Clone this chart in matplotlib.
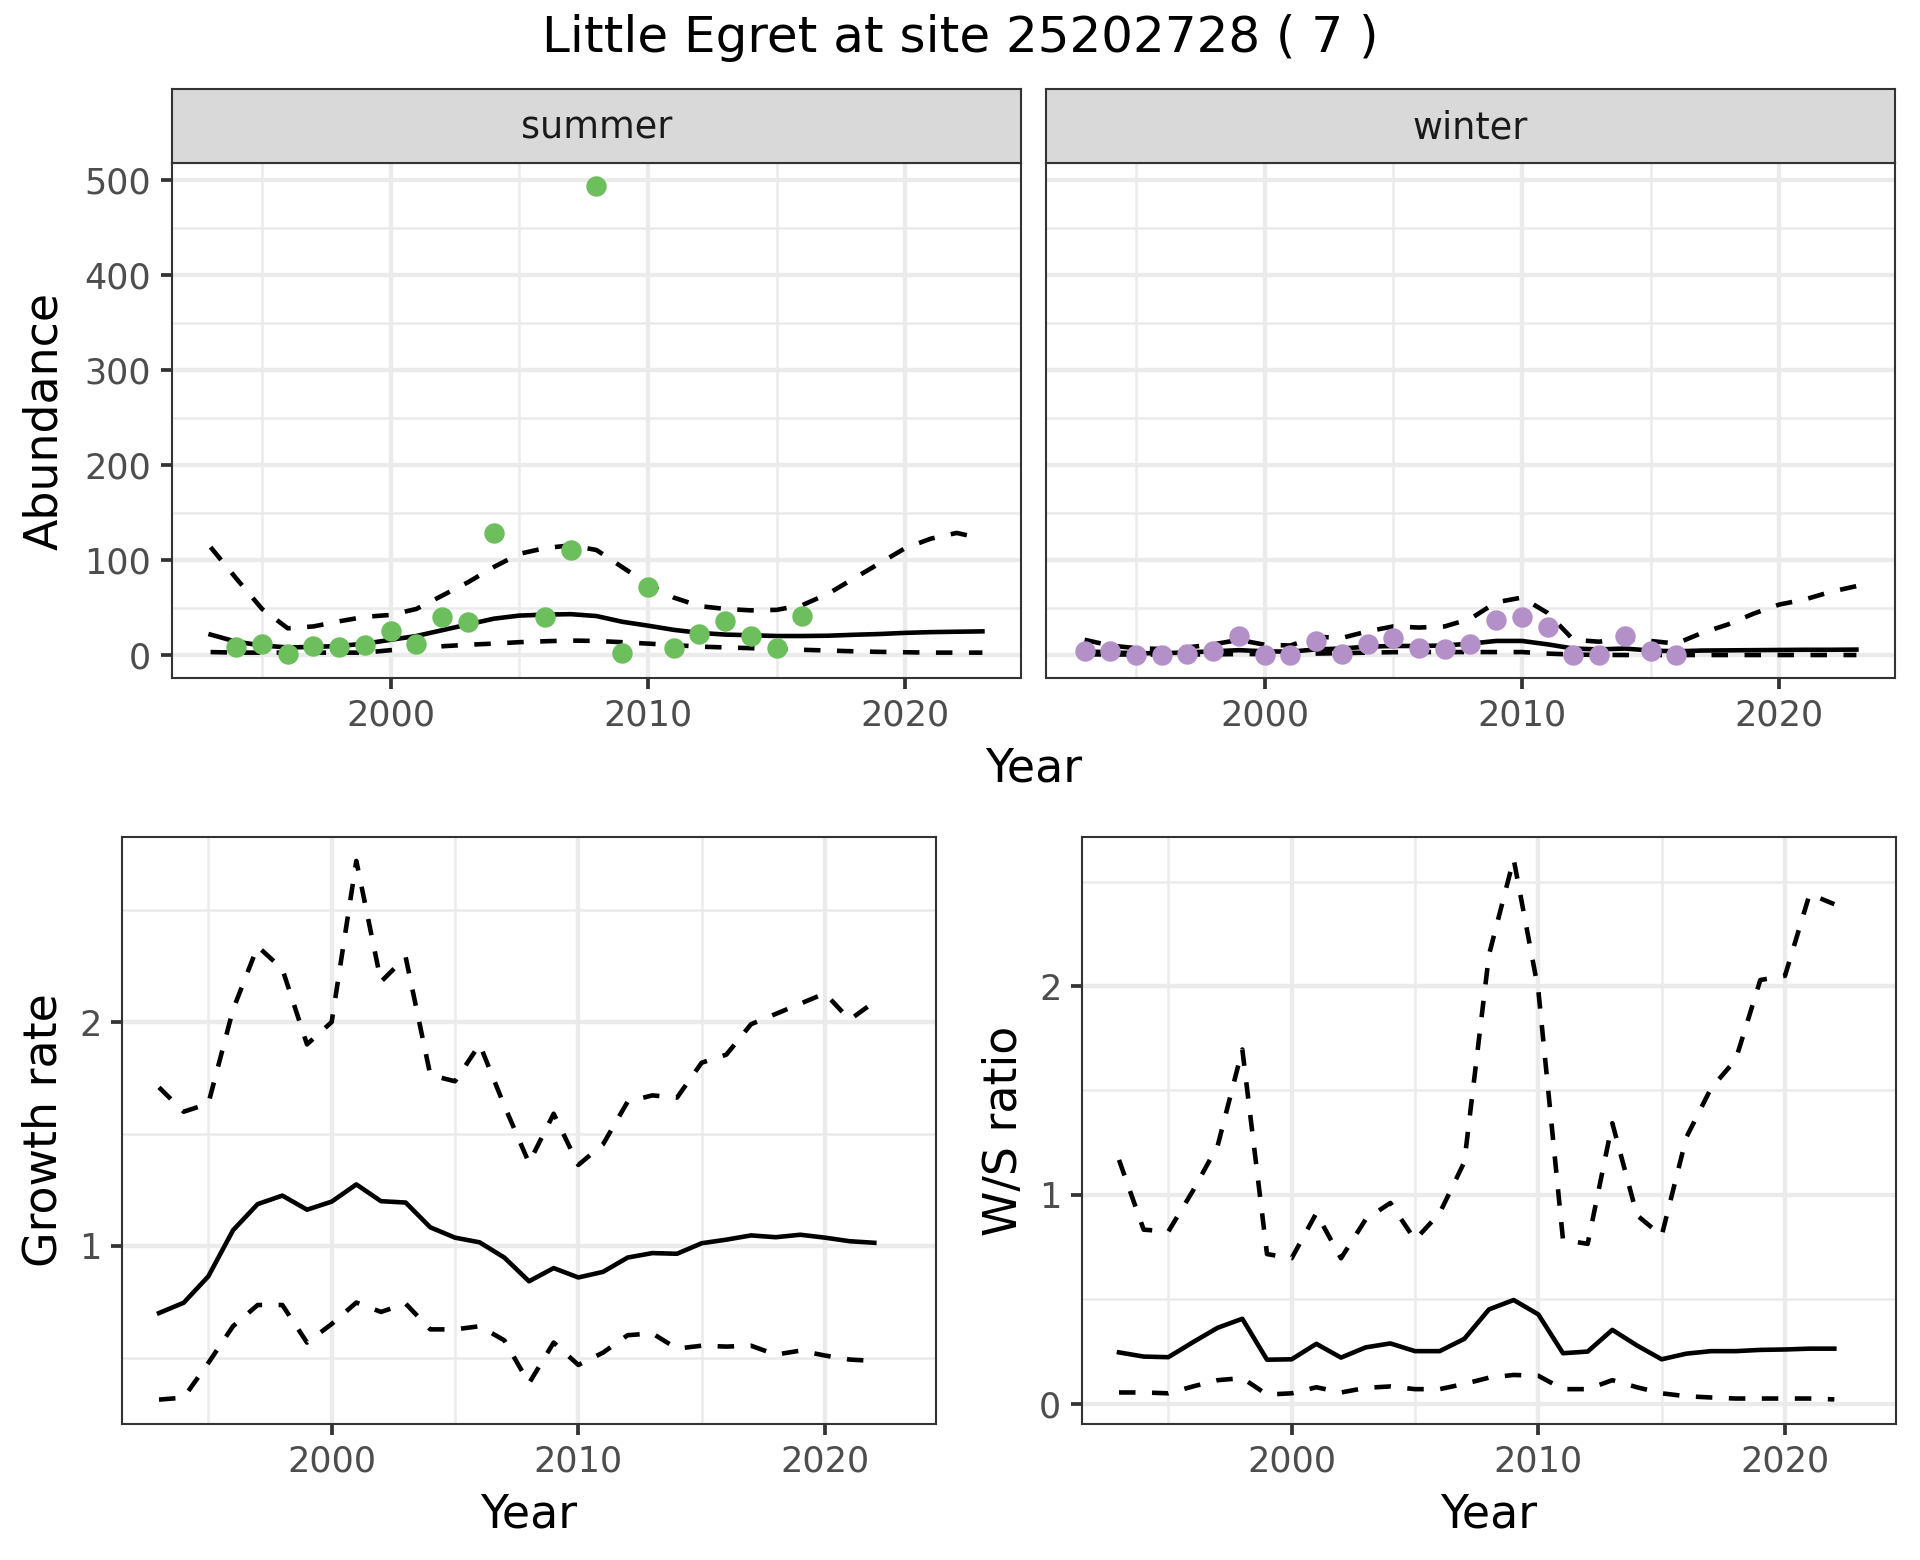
import matplotlib
matplotlib.use("Agg")
import matplotlib.pyplot as plt
import numpy as np

# fitted abundance trends, 1993-2023
trend_years = np.arange(1993, 2024)
summer_fit = [22, 14.5, 10.5, 8.5, 9, 10, 12.5, 16.5, 20.5, 26.6, 32.6, 38.7, 42, 43, 43.5,
              41.5, 35.5, 31.4, 27, 23.8, 22, 21.3, 20.5, 20.5, 20.8, 21.8, 22.6, 23.8, 24.6, 25, 25.4]
summer_hi = [114, 81, 49, 28.6, 30.6, 36, 40.7, 42.7, 49, 63, 77, 93, 107, 113, 116,
             111, 93, 75, 61, 52, 49, 47.5, 48, 53, 65, 81, 97, 113, 123, 129, 123]
summer_lo = [3.6, 3, 3, 3, 3, 3, 3, 5.6, 7.7, 9.7, 11.3, 12.5, 14, 15, 15.7,
             15.3, 14, 12.5, 11, 9.3, 8.5, 7.7, 6.8, 6, 5.2, 4.4, 3.8, 3.4, 3, 3, 3]
winter_fit = [4.4, 3.2, 2.4, 2.4, 3.2, 4.4, 5.6, 4.4, 4, 6.4, 7.3, 9.3, 10, 10, 10.5,
              12.5, 15.3, 15.3, 11.7, 7.3, 6.4, 7.3, 5.2, 4.4, 5.2, 5.4, 5.6, 5.8, 6, 6, 6.2]
winter_hi = [16.5, 10.5, 7.7, 6.8, 8.5, 11.7, 16.5, 11.3, 10.5, 19.7, 18.5, 25.4, 30.6, 29.4, 30.6,
             38.7, 56, 61, 44.7, 16.5, 14.5, 18.5, 15.3, 12.5, 23.8, 32.6, 44, 53.6, 59, 67, 73]
winter_lo = [1.2, 1, 1, 1, 1, 1.2, 1.5, 1.5, 1.8, 2, 2.5, 3, 3.5, 3.6, 3.6,
             3.6, 3.6, 3.6, 2, 1, 0.6, 0.5, 0.5, 0.5, 0.5, 0.5, 0.5, 0.5, 0.5, 0.5, 0.5]

# observed counts
summer_years = [1994, 1995, 1996, 1997, 1998, 1999, 2000, 2001, 2002, 2003, 2004,
                2006, 2007, 2008, 2009, 2010, 2011, 2012, 2013, 2014, 2015, 2016]
summer_counts = [9, 12, 2, 10, 8.5, 11, 26, 12.5, 41, 35, 129,
                 40, 111, 494, 3, 72, 8, 23, 36, 20, 8, 42]
winter_years = list(range(1993, 2017))
winter_counts = [5, 5, 0.5, 0, 2, 5, 20.5, 0, 0.5, 15, 2, 12, 18, 8, 7, 12.5,
                 37, 41, 30, 0.5, 1, 21, 5, 0.5]

# growth rate and winter/summer ratio, 1993-2022
rate_years = np.arange(1993, 2023)
growth_mid = [0.699, 0.745, 0.863, 1.069, 1.186, 1.224, 1.161, 1.197, 1.274, 1.199, 1.193, 1.082, 1.036, 1.015, 0.947,
              0.841, 0.9, 0.858, 0.883, 0.947, 0.967, 0.964, 1.011, 1.027, 1.046, 1.038, 1.049, 1.036, 1.02, 1.013]
growth_hi = [1.708, 1.599, 1.635, 2.055, 2.338, 2.237, 1.9, 2.0, 2.72, 2.18, 2.29, 1.763, 1.735, 1.9, 1.626,
             1.37, 1.59, 1.361, 1.453, 1.644, 1.672, 1.662, 1.818, 1.854, 1.99, 2.036, 2.082, 2.128, 2.01, 2.09]
growth_lo = [0.312, 0.321, 0.476, 0.64, 0.735, 0.735, 0.567, 0.65, 0.746, 0.704, 0.741, 0.626, 0.626, 0.64, 0.577,
             0.385, 0.567, 0.467, 0.522, 0.6, 0.608, 0.54, 0.553, 0.549, 0.553, 0.513, 0.531, 0.509, 0.491, 0.485]
ws_mid = [0.245, 0.225, 0.222, 0.294, 0.363, 0.406, 0.21, 0.212, 0.286, 0.22, 0.269, 0.288, 0.251, 0.251, 0.31,
          0.451, 0.496, 0.427, 0.241, 0.249, 0.353, 0.278, 0.212, 0.239, 0.251, 0.251, 0.257, 0.259, 0.263, 0.263]
ws_hi = [1.167, 0.833, 0.824, 1.02, 1.235, 1.696, 0.716, 0.696, 0.912, 0.696, 0.882, 0.961, 0.784, 0.912, 1.157,
         2.15, 2.608, 1.98, 0.784, 0.765, 1.343, 0.902, 0.804, 1.275, 1.51, 1.647, 2.029, 2.049, 2.441, 2.392]
ws_lo = [0.053, 0.053, 0.049, 0.082, 0.112, 0.122, 0.043, 0.049, 0.078, 0.053, 0.075, 0.082, 0.069, 0.069, 0.094,
         0.124, 0.137, 0.133, 0.069, 0.069, 0.112, 0.078, 0.049, 0.035, 0.029, 0.024, 0.024, 0.024, 0.024, 0.02]

GREEN = "#6dbe5c"
PURPLE = "#b490c8"
W, H = 1920, 1560
LW = 1.1
DASH = (0, (3.6, 3.6))


def frac(x0, y0, x1, y1):
    # pixel box -> figure fraction rect
    return [x0 / W, 1 - y1 / H, (x1 - x0) / W, (y1 - y0) / H]


def style(ax, xlim, ylim, yticks, yminor, show_ylabels=True):
    ax.set_xlim(*xlim)
    ax.set_ylim(*ylim)
    ax.set_xticks([2000, 2010, 2020])
    ax.set_xticks([1995, 2005, 2015], minor=True)
    ax.set_yticks(yticks)
    ax.set_yticks(yminor, minor=True)
    ax.grid(which="major", color="#ebebeb", lw=1.05, zorder=0)
    ax.grid(which="minor", color="#ebebeb", lw=0.6, zorder=0)
    ax.set_axisbelow(True)
    ax.tick_params(which="major", length=2.75, width=0.9, color="#333333",
                   labelsize=8.4, labelcolor="#4d4d4d", pad=2.2)
    ax.tick_params(which="minor", length=0)
    if not show_ylabels:
        ax.tick_params(axis="y", which="major", length=0, labelleft=False)
    for sp in ax.spines.values():
        sp.set_color("#333333")
        sp.set_linewidth(0.5)


def draw_band(ax, x, mid, lo, hi):
    ax.plot(x, hi, color="black", lw=LW, ls=DASH, zorder=2)
    ax.plot(x, lo, color="black", lw=LW, ls=DASH, zorder=2)
    ax.plot(x, mid, color="black", lw=LW, zorder=2)


fig = plt.figure(figsize=(6.4, 5.2), dpi=300)
XL = (1991.5, 2024.5)
top_ylim = (-23.7, 518.4)

ax_s = fig.add_axes(frac(172, 163, 1021, 678))
ax_w = fig.add_axes(frac(1046, 163, 1895, 678))
for ax, x_obs, y_obs, col, mid, lo, hi, name, (sx0, sx1) in [
        (ax_s, summer_years, summer_counts, GREEN, summer_fit, summer_lo, summer_hi, "summer", (172, 1021)),
        (ax_w, winter_years, winter_counts, PURPLE, winter_fit, winter_lo, winter_hi, "winter", (1046, 1895))]:
    draw_band(ax, trend_years, mid, lo, hi)
    ax.plot(x_obs, y_obs, "o", color=col, ms=4.9, mew=0, zorder=3)
    style(ax, XL, top_ylim, range(0, 501, 100), range(50, 501, 100), show_ylabels=(ax is ax_s))
    strip = fig.add_axes(frac(sx0, 89, sx1, 163))
    strip.set_facecolor("#d9d9d9")
    strip.set_xticks([])
    strip.set_yticks([])
    for sp in strip.spines.values():
        sp.set_color("#333333")
        sp.set_linewidth(0.5)
    strip.text(0.5, 0.33, name, ha="center", va="baseline", fontsize=8.8,
               color="#1a1a1a", transform=strip.transAxes)

ax_g = fig.add_axes(frac(122, 837, 936, 1424))
draw_band(ax_g, rate_years, growth_mid, growth_lo, growth_hi)
style(ax_g, XL, (0.203, 2.827), [1, 2], [0.5, 1.5, 2.5])

ax_r = fig.add_axes(frac(1082, 837, 1896, 1424))
draw_band(ax_r, rate_years, ws_mid, ws_lo, ws_hi)
style(ax_r, XL, (-0.098, 2.714), [0, 1, 2], [0.5, 1.5, 2.5])

fig.text(0.5, 1 - 52 / H, "Little Egret at site 25202728 ( 7 )", ha="center",
         va="baseline", fontsize=12)
fig.text((172 + 1895) / 2 / W, 1 - 782 / H, "Year", ha="center", va="baseline", fontsize=11)
fig.text((122 + 936) / 2 / W, 1 - 1528 / H, "Year", ha="center", va="baseline", fontsize=11)
fig.text((1082 + 1896) / 2 / W, 1 - 1528 / H, "Year", ha="center", va="baseline", fontsize=11)
fig.text(57 / W, 1 - (163 + 678) / 2 / H, "Abundance", rotation=90, rotation_mode="anchor",
         ha="center", va="baseline", fontsize=11)
fig.text(57 / W, 1 - (837 + 1424) / 2 / H, "Growth rate", rotation=90, rotation_mode="anchor",
         ha="center", va="baseline", fontsize=11)
fig.text(1017 / W, 1 - (837 + 1424) / 2 / H, "W/S ratio", rotation=90, rotation_mode="anchor",
         ha="center", va="baseline", fontsize=11)

fig.savefig("out.png", dpi=300, facecolor="white")
